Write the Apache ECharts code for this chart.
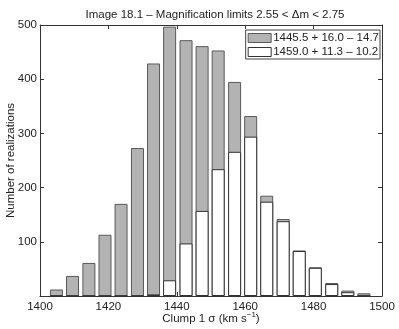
<!DOCTYPE html>
<html>
<head>
<meta charset="utf-8">
<script src="https://cdn.jsdelivr.net/npm/echarts@6/dist/echarts.min.js"></script>
<style>
    html, body { margin: 0; padding: 0; background: #fff; }
    #histChart { width: 399px; height: 329px; }
</style>
</head>
<body>
<div id="histChart"></div>
<script>
// bin centres (km/s) and counts
const binCenters = [1404.8, 1409.5, 1414.3, 1419.0, 1423.7, 1428.5, 1433.2, 1437.9, 1442.7, 1447.4,
    1452.1, 1456.9, 1461.6, 1466.3, 1471.1, 1475.8, 1480.5, 1485.3, 1490.0, 1494.7]
const grayCounts = [12, 37, 61, 113, 170, 273, 429, 497, 472, 461,
    453, 395, 332, 185, 142, 84, 53, 24, 10, 5]
const whiteCounts = [0, 0, 0, 0, 0, 0, 3, 29, 97, 157,
    234, 266, 294, 174, 138, 83, 52, 22, 7, 0]
const seriesNames = ['1445.5 + 16.0 \u2013 14.7', '1459.0 + 11.3 \u2013 10.2']
const xTicks = [1400, 1420, 1440, 1460, 1480, 1500]
const yTicks = [100, 200, 300, 400, 500]

const textColor = '#222'
const axisColor = '#333'
const fontFamily = '"Liberation Sans", Arial, sans-serif'

const toPairs = (vals) => binCenters.map((x, i) => [x, vals[i]])

const baseX = {
    type: 'value',
    min: 1400,
    max: 1500,
    interval: 20,
    splitLine: { show: false },
    axisLine: { show: true, onZero: false, lineStyle: { color: axisColor, width: 1 } },
    axisTick: { show: true, inside: true, length: 4, lineStyle: { color: axisColor } },
}
const baseY = {
    type: 'value',
    min: 0,
    max: 500,
    interval: 100,
    splitLine: { show: false },
    axisLine: { show: true, lineStyle: { color: axisColor, width: 1 } },
    axisTick: { show: true, inside: true, length: 4, lineStyle: { color: axisColor } },
}

const option = {
    animation: false,
    textStyle: { fontFamily: fontFamily },
    title: {
        text: 'Image 18.1 \u2013 Magnification limits 2.55 < \u0394m < 2.75',
        left: 210,
        top: 4,
        textAlign: 'center',
        textStyle: { fontSize: 11.5, fontWeight: 'normal', color: textColor, fontFamily: fontFamily }
    },
    legend: {
        orient: 'vertical',
        right: 19,
        top: 30,
        padding: [2, 1, 1, 2],
        itemGap: 2,
        itemWidth: 23,
        itemHeight: 9,
        borderColor: '#444',
        borderWidth: 1,
        borderRadius: 0,
        backgroundColor: '#fff',
        icon: 'rect',
        itemStyle: { borderWidth: 1 },
        textStyle: { fontSize: 11.5, color: textColor, padding: [0, 0, 0, -3] },
        data: seriesNames
    },
    grid: { left: 40, right: 17, top: 25, bottom: 33, outerBoundsMode: 'none' },
    xAxis: [
        Object.assign({}, baseX, {
            position: 'bottom',
            name: 'Clump 1 \u03c3 (km s{sup|\u22121})',
            nameLocation: 'center',
            nameGap: 15,
            nameMoveOverlap: false,
            nameTextStyle: {
                fontSize: 11.5,
                color: textColor,
                rich: { sup: { fontSize: 8, verticalAlign: 'top', padding: [0, 0, 8, 0], color: textColor } }
            },
            axisLabel: {
                show: true, color: textColor, fontSize: 11.5, margin: 5,
                formatter: (v) => xTicks.includes(v) ? String(v) : ''
            }
        }),
        Object.assign({}, baseX, { position: 'top', axisLabel: { show: false } })
    ],
    yAxis: [
        Object.assign({}, baseY, {
            position: 'left',
            name: 'Number of realizations',
            nameLocation: 'center',
            nameGap: 23,
            nameMoveOverlap: false,
            nameTextStyle: { fontSize: 11.5, color: textColor },
            axisLabel: {
                show: true, color: textColor, fontSize: 11.5, margin: 3,
                formatter: (v) => yTicks.includes(v) ? String(v) : ''
            }
        }),
        Object.assign({}, baseY, { position: 'right', axisLabel: { show: false } })
    ],
    series: [
        {
            type: 'bar',
            name: seriesNames[0],
            xAxisIndex: 0,
            yAxisIndex: 0,
            barWidth: 13,
            barGap: '-100%',
            data: toPairs(grayCounts),
            itemStyle: { color: '#b3b3b3', borderColor: '#5a5a5a', borderWidth: 1 }
        },
        {
            type: 'bar',
            name: seriesNames[1],
            xAxisIndex: 0,
            yAxisIndex: 0,
            barWidth: 13,
            barGap: '-100%',
            data: toPairs(whiteCounts),
            itemStyle: { color: '#ffffff', borderColor: '#333', borderWidth: 1 }
        }
    ]
}

const chartInstance = echarts.init(document.getElementById('histChart'))
chartInstance.setOption(option)
</script>
</body>
</html>
